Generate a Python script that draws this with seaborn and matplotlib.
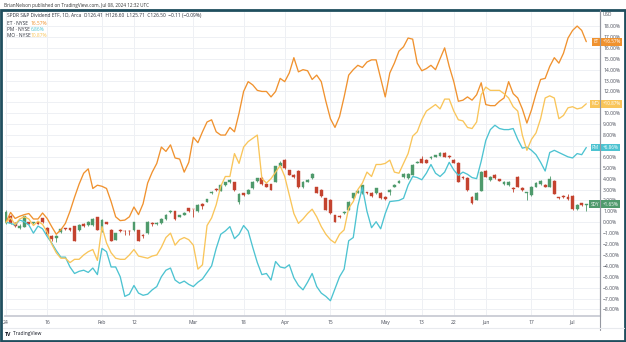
import numpy as np
import pandas as pd
import matplotlib
matplotlib.use("Agg")
import matplotlib.pyplot as plt
import matplotlib.transforms as mtransforms
from matplotlib.lines import Line2D
from matplotlib.patches import Rectangle
import seaborn as sns

# ---------------- data (percent change since first bar) ----------------
bars = list(range(128))

et = [0.0, 0.9, 0.35, 0.55, 0.7, 0.8, 0.3, 0.3, 0.85, 0.35,
      -0.4, -1.1, -0.7, -0.1, 1.0, 2.3, 3.5, 4.5, 4.9, 3.1,
      3.4, 3.3, 3.1, 1.9, 0.5, 0.15, 0.2, 0.5, 1.4, 0.7,
      1.7, 3.6, 4.6, 5.4, 6.9, 6.5, 7.1, 5.9, 5.8, 4.6,
      5.5, 7.8, 7.3, 8.3, 9.2, 9.4, 8.3, 8.0, 8.0, 8.7,
      8.3, 10.0, 12.0, 12.9, 12.6, 12.1, 12.0, 12.0, 11.5, 12.0,
      13.2, 12.9, 13.7, 15.1, 13.8, 14.0, 13.9, 13.1, 13.5, 12.9,
      11.1, 9.5, 8.7, 9.7, 11.5, 13.5, 14.0, 14.4, 14.2, 14.7,
      14.9, 14.9, 13.2, 11.5, 13.7, 14.6, 15.7, 16.1, 16.9, 16.8,
      14.6, 13.9, 14.1, 14.4, 14.0, 15.0, 16.0, 14.3, 12.9, 11.1,
      11.2, 11.5, 11.2, 11.7, 12.8, 10.8, 10.7, 10.7, 11.1, 11.4,
      12.9, 11.8, 11.4, 10.4, 9.1, 10.3, 11.8, 13.1, 13.2, 14.3,
      15.1, 14.6, 15.5, 16.9, 17.6, 18.0, 17.6, 16.57]

pm = [0.0, -0.1, -0.25, 0.2, 0.05, -0.25, -1.0, -0.35, -0.6, -1.3,
      -1.9, -2.6, -3.2, -3.2, -4.1, -4.7, -4.5, -4.4, -4.6, -4.2,
      -4.8, -2.4, -2.7, -4.1, -4.1, -5.0, -6.8, -6.6, -5.8, -6.5,
      -6.7, -6.6, -6.2, -5.9, -5.0, -4.4, -4.2, -5.3, -5.6, -5.4,
      -5.7, -5.9, -5.5, -5.2, -4.6, -4.0, -2.4, -1.1, -0.8, -0.4,
      -1.5, -1.1, -0.3, -0.8, -2.3, -3.7, -4.8, -4.7, -5.3, -3.6,
      -4.1, -4.2, -3.9, -5.1, -5.8, -6.2, -5.5, -4.7, -5.9, -6.5,
      -6.8, -7.2, -6.1, -5.0, -4.3, -1.7, -1.4, 1.5, 3.2, 1.0,
      -0.5, 0.05, -0.6, 0.8, 1.9, 1.95, 2.0, 2.2, 3.4, 4.2,
      4.1, 3.9, 4.5, 5.3, 4.5, 4.2, 4.6, 5.5, 4.8, 4.3,
      4.6, 4.4, 4.1, 4.0, 5.6, 7.5, 8.5, 8.9, 8.6, 8.5,
      8.5, 8.6, 7.6, 6.8, 6.9, 6.6, 6.2, 5.5, 4.7, 6.4,
      6.6, 6.4, 6.2, 6.0, 5.9, 6.3, 6.2, 6.86]

mo = [0.0, 0.4, -0.2, 0.3, 0.5, 0.3, -0.3, 0.1, -0.2, -0.9,
      -2.0, -2.8, -3.3, -3.3, -3.7, -3.4, -3.4, -3.0, -2.7, -2.5,
      -3.5, -0.4, -1.9, -2.8, -3.3, -3.4, -3.4, -3.0, -2.5, -3.1,
      -3.2, -3.3, -3.1, -3.0, -2.3, -1.4, -1.0, -2.1, -1.6, -1.4,
      -1.6, -2.1, -4.3, -3.9, -0.3, 0.4, 1.6, 3.3, 4.2, 4.2,
      6.3, 5.4, 6.9, 7.4, 7.7, 8.0, 4.0, 3.6, 4.0, 4.6,
      5.2, 4.2, 2.5, 0.8, -0.1, 0.3, 0.8, 1.2, 0.5, -0.4,
      -1.1, -1.6, -1.9, -1.1, -0.7, 1.3, 1.9, 3.0, 3.6, 4.6,
      4.2, 5.3, 5.3, 5.4, 5.7, 4.6, 4.5, 5.4, 6.3, 7.9,
      8.3, 9.4, 10.2, 10.5, 10.8, 10.4, 11.3, 11.3, 10.2, 9.4,
      9.3, 8.7, 8.6, 9.2, 11.7, 12.4, 12.1, 12.1, 12.1, 11.8,
      11.4, 10.6, 10.2, 8.0, 6.6, 7.6, 8.2, 9.5, 11.4, 11.6,
      11.4, 9.5, 9.8, 10.5, 10.6, 10.4, 10.5, 10.87]

sdy_open = [-0.10, 0.60, -0.10, -0.50, -0.40, 0.00, -0.10, 0.00, 0.35, -0.50,
            -1.25, -1.40, -0.85, -0.55, -0.55, -0.35, -0.75, -0.15, -0.25, -0.25,
            0.45, -0.70, 0.00, -0.70, -1.60, -0.70, -0.80, -0.80, -0.75, -0.75,
            -1.20, -1.00, -0.10, -0.20, -0.10, 0.27, 0.90, 1.00, 0.50, 0.70,
            1.30, 1.20, 1.00, 1.70, 1.90, 2.65, 3.05, 2.90, 3.40, 3.65,
            3.65, 1.90, 2.65, 2.60, 3.10, 3.75, 4.10, 3.55, 3.50, 3.70,
            5.15, 5.70, 4.75, 4.35, 4.70, 3.20, 3.70, 4.05, 3.20, 3.00,
            2.20, 2.05, 0.67, 0.58, 0.82, 1.13, 2.20, 2.72, 2.66, 2.72,
            2.70, 2.66, 2.70, 2.35, 2.80, 3.27, 3.64, 4.13, 4.04, 4.34,
            5.47, 5.78, 5.72, 5.87, 6.02, 6.08, 6.39, 6.08, 5.72, 5.41,
            4.19, 4.10, 2.35, 2.05, 2.90, 4.74, 3.88, 4.34, 3.94, 3.51,
            3.42, 3.12, 4.19, 3.10, 2.72, 2.50, 3.27, 3.51, 3.42, 3.27,
            3.82, 2.29, 2.42, 2.35, 2.42, 1.19, 1.74, 1.58]
sdy_close = [0.95, -0.10, -0.30, -0.30, 0.55, -0.15, 0.00, -0.15, 0.00, -1.10,
             -1.55, -1.30, -0.65, -0.65, -0.75, -1.70, -0.25, -0.35, 0.05, 0.30,
             -0.70, 0.25, -0.15, -1.70, -1.00, -0.80, -0.82, -0.82, 0.00, -1.70,
             -1.22, 0.05, -0.20, -0.10, 0.27, 0.67, 1.05, 0.30, 0.65, 0.85,
             1.00, 1.18, 1.60, 1.50, 2.10, 2.80, 2.95, 3.40, 3.65, 3.85,
             2.95, 2.60, 2.50, 3.00, 3.70, 4.05, 3.50, 3.25, 3.00, 5.15,
             5.40, 4.95, 4.35, 4.15, 3.20, 3.70, 3.90, 4.45, 2.70, 2.40,
             1.15, 0.82, 0.06, 0.46, 0.98, 1.90, 2.66, 2.90, 3.40, 2.70,
             2.40, 3.12, 2.20, 2.10, 3.00, 3.42, 3.82, 4.43, 4.43, 5.26,
             5.56, 5.47, 5.47, 6.02, 6.17, 6.39, 6.02, 5.96, 5.47, 3.73,
             4.04, 2.96, 1.74, 2.72, 4.65, 4.19, 4.19, 4.04, 3.82, 3.73,
             3.73, 3.03, 3.27, 2.95, 2.74, 3.27, 3.64, 3.82, 3.27, 3.94,
             2.60, 2.20, 2.29, 2.11, 1.19, 1.59, 1.59, 1.65]
sdy_high = [1.10, 0.70, 0.00, -0.20, 0.60, 0.05, 0.05, 0.05, 0.40, -0.40,
            -1.20, -1.20, -0.55, -0.50, -0.50, -0.30, -0.20, -0.10, 0.10, 0.35,
            0.50, 0.30, 0.05, -0.65, -0.95, -0.65, -0.75, -0.75, 0.05, -0.70,
            -1.10, 0.10, 0.05, 0.05, 0.35, 0.75, 1.15, 1.05, 0.70, 0.90,
            1.35, 1.25, 1.65, 1.75, 2.15, 2.85, 3.10, 3.45, 3.70, 3.95,
            3.70, 2.65, 2.70, 3.05, 3.75, 4.10, 4.15, 3.60, 3.55, 5.20,
            5.60, 5.80, 4.80, 4.40, 4.75, 3.75, 3.95, 4.50, 3.25, 3.05,
            2.25, 2.10, 0.70, 0.65, 1.05, 1.95, 2.70, 2.95, 3.45, 2.80,
            2.75, 3.15, 2.75, 2.40, 3.05, 3.50, 3.85, 4.50, 4.50, 5.30,
            5.60, 6.10, 5.80, 6.05, 6.20, 6.45, 6.45, 6.15, 5.80, 5.50,
            4.25, 4.15, 2.40, 2.80, 4.70, 4.80, 4.25, 4.40, 4.00, 3.80,
            3.80, 3.20, 4.25, 3.20, 2.80, 3.30, 3.70, 3.90, 3.50, 4.25,
            3.90, 2.35, 2.50, 2.60, 2.50, 1.65, 1.80, 1.72]
sdy_low = [-0.20, -0.20, -0.40, -0.60, -0.45, -0.20, -0.15, -0.20, -0.05, -1.20,
           -1.70, -1.80, -1.00, -0.70, -0.80, -1.75, -0.80, -0.40, -0.30, -0.30,
           -0.75, -0.90, -0.20, -1.75, -1.65, -0.85, -1.20, -1.20, -0.80, -1.75,
           -1.45, -1.05, -0.30, -0.25, -0.15, 0.20, 0.85, 0.25, 0.45, 0.65,
           0.95, 0.50, 0.95, 1.20, 1.85, 2.60, 2.90, 2.85, 3.35, 3.60,
           2.90, 1.70, 2.45, 2.55, 3.05, 3.70, 3.45, 3.20, 2.95, 3.65,
           5.10, 4.90, 4.30, 4.10, 3.10, 3.15, 3.65, 4.00, 2.65, 2.35,
           1.10, 0.75, 0.00, 0.40, 0.75, 1.10, 2.15, 2.65, 2.60, 2.60,
           2.35, 2.60, 2.15, 2.05, 2.50, 3.20, 3.60, 4.10, 4.00, 4.30,
           5.40, 5.40, 5.40, 5.80, 5.95, 6.05, 5.95, 5.90, 5.40, 3.65,
           3.95, 2.90, 1.70, 2.00, 2.85, 4.15, 3.80, 4.00, 3.75, 3.45,
           3.35, 2.80, 3.20, 2.85, 2.05, 2.40, 3.20, 3.45, 3.20, 3.20,
           2.55, 2.10, 2.20, 2.05, 1.15, 1.15, 1.50, 1.00]

tick_pos = [0, 9, 21, 28, 41, 52, 61, 71, 83, 91, 98, 105, 115, 124]
tick_labels = ["24", "16", "Feb", "12", "Mar", "18", "Apr", "15", "May",
               "13", "22", "Jun", "17", "Jul"]
y_ticks = list(range(-8, 19))

# ---------------- style ----------------
sns.set_style("white")
plt.rcParams["font.family"] = ["Open Sans", "DejaVu Sans"]

C_ET = "#f0922f"
C_PM = "#4dc3d1"
C_MO = "#f9c55a"
C_UP = "#4f9a6c"
C_DN = "#c4432f"
GRID = "#eef0f4"
TXT = "#4a4e5a"
FRAME = "#1f4e5e"

W, H = 626, 342
fig = plt.figure(figsize=(W / 100, H / 100), dpi=100)
fig.patch.set_facecolor("white")

def fx(px):
    return px / W

def fy(py):
    return 1 - py / H

ax = fig.add_axes([fx(5), fy(316), fx(600) - fx(5), fy(12) - fy(316)])
ax.set_facecolor("white")

# grid
for t in tick_pos:
    ax.axvline(t, color=GRID, lw=0.7, zorder=0)
for t in y_ticks:
    ax.axhline(t, color=GRID, lw=0.7, zorder=0)

# candles
o = np.array(sdy_open); c = np.array(sdy_close)
hi = np.array(sdy_high); lo = np.array(sdy_low)
up = c >= o
cols = np.where(up, C_UP, C_DN)
ax.vlines(bars, lo, hi, colors=cols, lw=0.6, zorder=2)
body_bottom = np.minimum(o, c)
body_h = np.maximum(np.abs(c - o), 0.05)
ax.bar(bars, body_h, bottom=body_bottom, width=0.62, color=cols,
       edgecolor=cols, linewidth=0.3, zorder=2)

# compare lines
df = pd.DataFrame({
    "bar": bars * 3,
    "pct": et + pm + mo,
    "sym": ["ET"] * len(et) + ["PM"] * len(pm) + ["MO"] * len(mo),
})
sns.lineplot(data=df, x="bar", y="pct", hue="sym",
             palette={"ET": C_ET, "PM": C_PM, "MO": C_MO},
             linewidth=0.95, legend=False, ax=ax, zorder=3)

ax.set_xlim(-0.22, 130.0)
ax.set_ylim(-8.6, 19.29)
ax.set_xlabel("")
ax.set_ylabel("")

ax.set_xticks(tick_pos)
ax.set_xticklabels(tick_labels)
ax.set_yticks(y_ticks)
ax.set_yticklabels([("%.2f%%" % v).replace("-", "\u2212") for v in y_ticks])
ax.yaxis.tick_right()
ax.tick_params(axis="y", length=0, pad=2.2, labelsize=3.6, labelcolor=TXT)
ax.tick_params(axis="x", length=0, pad=2.6, labelsize=3.6, labelcolor=TXT)
for s in ["top", "left"]:
    ax.spines[s].set_visible(False)
ax.spines["bottom"].set_color("#c9ccd4")
ax.spines["bottom"].set_linewidth(1.3)
ax.spines["right"].set_color("#9598a1")
ax.spines["right"].set_linewidth(0.8)

# right-side value labels
blend = mtransforms.blended_transform_factory(ax.transAxes, ax.transData)
labels = [("ET", "+16.57%", 16.57, C_ET),
          ("MO", "+10.87%", 10.87, C_MO),
          ("PM", "+6.86%", 6.86, C_PM),
          ("SDY", "+1.65%", 1.65, C_UP)]
for tk, val, yv, col in labels:
    ax.text(0.9985, yv, tk, transform=blend, ha="right", va="center",
            fontsize=3.3, color="white", zorder=6, clip_on=False,
            bbox=dict(boxstyle="square,pad=0.3", fc=col, ec="none"))
    ax.text(1.004, yv, val, transform=blend, ha="left", va="center",
            fontsize=3.3, color="white", zorder=6, clip_on=False,
            bbox=dict(boxstyle="square,pad=0.3", fc=col, ec="none"))

# USD tag
fig.text(fx(603), fy(15), "USD", fontsize=3.4, color=TXT, ha="left", va="center")

# extra axis lines
fig.add_artist(Line2D([fx(600), fx(600)], [fy(10), fy(330)], color="#9598a1", lw=0.8))
fig.add_artist(Line2D([fx(3), fx(624)], [fy(328), fy(328)], color="#e8eaee", lw=0.8))

# legend text in chart
fig.text(fx(7), fy(16),
         "SPDR S&P Dividend ETF, 1D, Arca  O126.41  H126.60  L125.71  C126.50  \u22120.11 (\u22120.09%)",
         fontsize=3.5, color="#2a2e39", ha="left", va="center")
rows = [("ET \u00b7 NYSE", "16.57%", C_ET, 23.5),
        ("PM \u00b7 NYSE", "6.86%", C_PM, 29.5),
        ("MO \u00b7 NYSE", "10.87%", C_MO, 35.5)]
for name, v, col, py in rows:
    fig.text(fx(7), fy(py), name, fontsize=3.5, color="#2a2e39", ha="left", va="center")
    fig.text(fx(31), fy(py), v, fontsize=3.5, color=col, ha="left", va="center")

# header
fig.text(fx(4), fy(5), "BrianNelson published on TradingView.com, Jul 08, 2024 12:32 UTC",
         fontsize=3.3, color="#333333", ha="left", va="center")

# TradingView logo
fig.text(fx(5), fy(334), "TV", fontsize=3.8, color="#131722", ha="left", va="center",
         fontweight="bold")
fig.text(fx(13), fy(334), "TradingView", fontsize=3.6, color="#131722", ha="left", va="center")

# frame
fig.add_artist(Rectangle((fx(1), fy(341)), fx(624), fy(10) - fy(341),
                         fill=False, ec=FRAME, lw=2.0, transform=fig.transFigure))

fig.savefig("out.png", dpi=100, facecolor="white")
